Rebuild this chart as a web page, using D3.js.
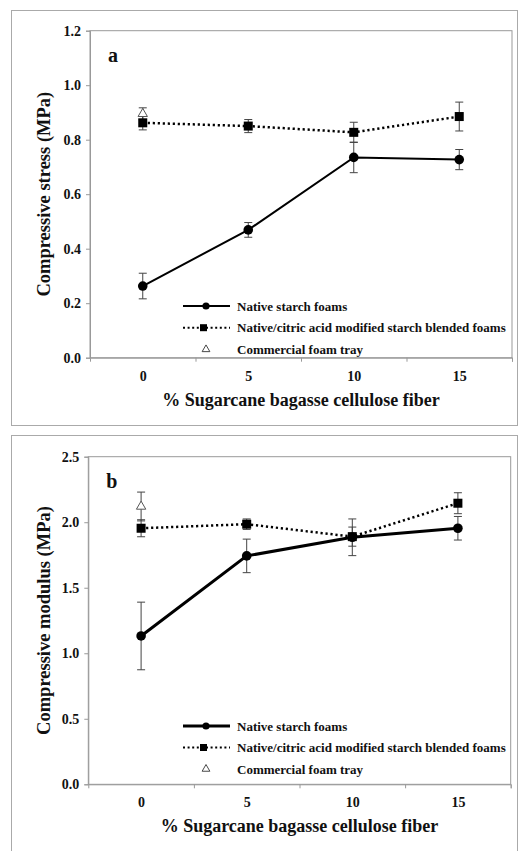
<!DOCTYPE html>
<html>
<head>
<meta charset="utf-8">
<script src="https://cdn.jsdelivr.net/npm/d3@7"></script>
<style>
  body { margin: 0; background: #fff; }
  svg { display: block; }
  svg text { font-family: "Liberation Serif", "Times New Roman", Times, "DejaVu Serif", serif !important; font-weight: bold; }
</style>
</head>
<body>
<svg id="chart" width="530" height="851"></svg>
<script>
// fiber content (%) on the x axis
const fiber = [0, 5, 10, 15];

// panel a: compressive stress (MPa)
const stressNative = [0.263, 0.469, 0.735, 0.727];
const stressNativeErr = [0.047, 0.027, 0.056, 0.037];
const stressBlend = [0.862, 0.850, 0.827, 0.885];
const stressBlendErr = [0.026, 0.024, 0.037, 0.053];
const stressTray = [0.895];
const stressTrayErr = [0.022];
const stressTicks = [0, 0.2, 0.4, 0.6, 0.8, 1.0, 1.2];

// panel b: compressive modulus (MPa)
const modulusNative = [1.132, 1.743, 1.885, 1.954];
const modulusNativeErr = [0.258, 0.128, 0.14, 0.09];
const modulusBlend = [1.954, 1.985, 1.89, 2.145];
const modulusBlendErr = [0.065, 0.04, 0.073, 0.08];
const modulusTray = [2.12];
const modulusTrayErr = [0.11];
const modulusTicks = [0, 0.5, 1.0, 1.5, 2.0, 2.5];

const legendLabels = ["Native starch foams",
                      "Native/citric acid modified starch blended foams",
                      "Commercial foam tray"];

const svg = d3.select("#chart");

function drawPanel(p) {
    // outer frame of the panel
    svg.append("rect")
        .attr("x", 11.5).attr("y", p.boxTop + 0.5)
        .attr("width", 506).attr("height", p.boxHeight)
        .attr("fill", "none").attr("stroke", "#aaa");

    const x = d3.scaleLinear().domain([-2.5, 17.5]).range([p.left, p.right]);
    const y = d3.scaleLinear().domain([0, p.yMax]).range([p.bottom, p.top]);

    const g = svg.append("g");

    // plot area border
    g.append("rect")
        .attr("x", p.left).attr("y", p.top)
        .attr("width", p.right - p.left).attr("height", p.bottom - p.top)
        .attr("fill", "none").attr("stroke", "#999");

    const yAxis = g.append("g")
        .attr("transform", `translate(${p.left},0)`)
        .call(d3.axisLeft(y).tickValues(p.ticks).tickFormat(d3.format(".1f")).tickSize(4).tickPadding(5));
    const xAxis = g.append("g")
        .attr("transform", `translate(0,${p.bottom})`)
        .call(d3.axisBottom(x).tickValues([2.5, 7.5, 12.5, 17.5]).tickFormat("").tickSize(4));
    const xLabels = g.append("g")
        .attr("transform", `translate(0,${p.bottom})`)
        .call(d3.axisBottom(x).tickValues(fiber).tickSize(0).tickPadding(13));
    [yAxis, xAxis, xLabels].forEach(a => {
        a.attr("font-family", null).attr("font-size", 14);
        a.select(".domain").attr("stroke", "#999");
        a.selectAll(".tick line").attr("stroke", "#999");
        a.selectAll("text").attr("fill", "#111");
    });
    xLabels.select(".domain").remove();

    // axis titles
    g.append("text")
        .attr("x", (p.left + p.right) / 2).attr("y", p.bottom + 48)
        .attr("text-anchor", "middle").attr("font-size", 18).attr("fill", "#111")
        .text("% Sugarcane bagasse cellulose fiber");
    g.append("text")
        .attr("transform", `translate(50,${(p.top + p.bottom) / 2}) rotate(-90)`)
        .attr("text-anchor", "middle").attr("font-size", 18.5).attr("fill", "#111")
        .text(p.yTitle);
    g.append("text")
        .attr("x", p.left + 18).attr("y", p.top + 31)
        .attr("font-size", 20).attr("fill", "#111")
        .text(p.letter);

    const pts = (vals, errs) => fiber.slice(0, vals.length).map((f, i) => ({ x: f, v: vals[i], e: errs[i] }));
    const native = pts(p.native, p.nativeErr);
    const blend = pts(p.blend, p.blendErr);
    const tray = pts(p.tray, p.trayErr);

    function errorBars(data) {
        const eb = g.append("g").attr("stroke", "#444").attr("stroke-width", 1);
        data.forEach(d => {
            const cx = x(d.x);
            eb.append("line").attr("x1", cx).attr("x2", cx).attr("y1", y(d.v - d.e)).attr("y2", y(d.v + d.e));
            [d.v - d.e, d.v + d.e].forEach(v => {
                eb.append("line").attr("x1", cx - 4).attr("x2", cx + 4).attr("y1", y(v)).attr("y2", y(v));
            });
        });
    }
    errorBars(tray);
    errorBars(blend);
    errorBars(native);

    const line = d3.line().x(d => x(d.x)).y(d => y(d.v));

    g.append("path").datum(blend).attr("d", line)
        .attr("fill", "none").attr("stroke", "#000").attr("stroke-width", 2.5)
        .attr("stroke-dasharray", "2.2 2.8");
    g.append("path").datum(native).attr("d", line)
        .attr("fill", "none").attr("stroke", "#000").attr("stroke-width", p.nativeWidth);

    const triangle = d3.symbol().type(d3.symbolTriangle).size(38);
    g.selectAll(".tray").data(tray).enter().append("path")
        .attr("transform", d => `translate(${x(d.x)},${y(d.v)})`)
        .attr("d", triangle).attr("fill", "#fff").attr("stroke", "#555").attr("stroke-width", 1);
    g.selectAll(".blend").data(blend).enter().append("rect")
        .attr("x", d => x(d.x) - 4.5).attr("y", d => y(d.v) - 4.5)
        .attr("width", 9).attr("height", 9).attr("fill", "#000");
    g.selectAll(".native").data(native).enter().append("circle")
        .attr("cx", d => x(d.x)).attr("cy", d => y(d.v)).attr("r", 4.8).attr("fill", "#000");

    // legend
    const lg = g.append("g");
    const rows = [0, 1, 2].map(i => p.legendTop + i * p.legendStep);
    const lx0 = 183, lx1 = 230, mx = 206;
    lg.append("line").attr("x1", lx0).attr("x2", lx1).attr("y1", rows[0]).attr("y2", rows[0])
        .attr("stroke", "#000").attr("stroke-width", p.nativeWidth);
    lg.append("circle").attr("cx", mx).attr("cy", rows[0]).attr("r", 3.6).attr("fill", "#000");
    lg.append("line").attr("x1", lx0).attr("x2", lx1).attr("y1", rows[1]).attr("y2", rows[1])
        .attr("stroke", "#000").attr("stroke-width", 2).attr("stroke-dasharray", "2 2.6");
    lg.append("rect").attr("x", mx - 6).attr("y", rows[1] - 3.5).attr("width", 7).attr("height", 7).attr("fill", "#000");
    lg.append("path").attr("transform", `translate(${mx},${rows[2]})`)
        .attr("d", d3.symbol().type(d3.symbolTriangle).size(26))
        .attr("fill", "#fff").attr("stroke", "#333").attr("stroke-width", 0.9);
    lg.selectAll("text").data(legendLabels).enter().append("text")
        .attr("x", 237).attr("y", (d, i) => rows[i] + 4.5)
        .attr("font-size", 13).attr("fill", "#111")
        .text(d => d);
}

drawPanel({
    boxTop: 10, boxHeight: 415,
    left: 90, right: 512, top: 30.7, bottom: 357.7,
    yMax: 1.2, ticks: stressTicks, letter: "a",
    yTitle: "Compressive stress (MPa)",
    native: stressNative, nativeErr: stressNativeErr,
    blend: stressBlend, blendErr: stressBlendErr,
    tray: stressTray, trayErr: stressTrayErr,
    nativeWidth: 2, legendTop: 306, legendStep: 21.7
});

drawPanel({
    boxTop: 435, boxHeight: 430,
    left: 88.3, right: 510.7, top: 456.7, bottom: 784.3,
    yMax: 2.5, ticks: modulusTicks, letter: "b",
    yTitle: "Compressive modulus (MPa)",
    native: modulusNative, nativeErr: modulusNativeErr,
    blend: modulusBlend, blendErr: modulusBlendErr,
    tray: modulusTray, trayErr: modulusTrayErr,
    nativeWidth: 3, legendTop: 726, legendStep: 21.5
});
</script>
</body>
</html>
